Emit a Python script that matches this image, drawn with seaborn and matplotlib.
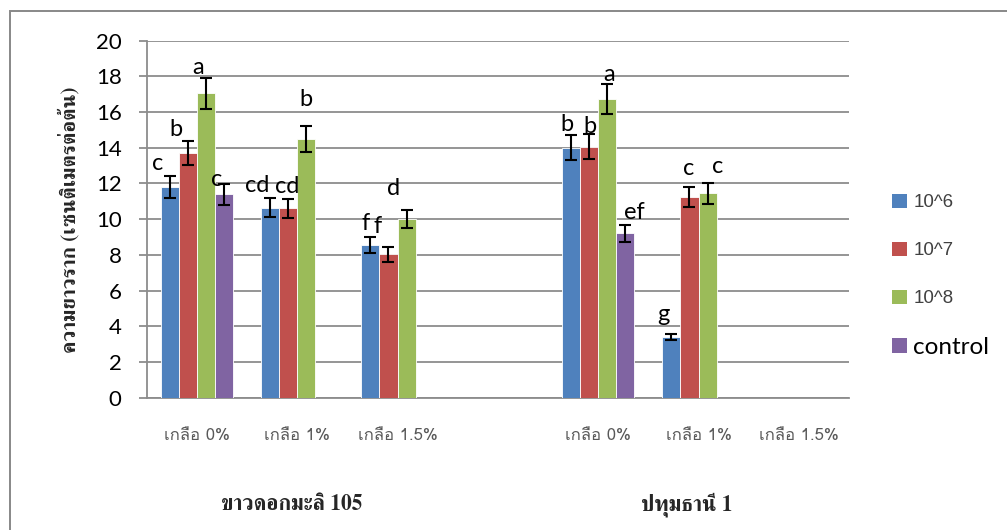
import numpy as np
import pandas as pd
import matplotlib
matplotlib.use("Agg")
import matplotlib.pyplot as plt
from matplotlib import font_manager
from matplotlib.patches import Patch, Rectangle
import seaborn as sns

# ---- data -----------------------------------------------------------------
varieties = ["ขาวดอกมะลิ 105", "ปทุมธานี 1"]
salt_levels = ["เกลือ 0%", "เกลือ 1%", "เกลือ 1.5%"]
treatments = ["10^6", "10^7", "10^8", "control"]

# root length (cm per plant), order: KDML105 0/1/1.5 %, PT1 0/1/1.5 %
len_1e6 = [11.8, 10.65, 8.55, 14.0, 3.4, np.nan]
len_1e7 = [13.7, 10.6, 8.05, 14.05, 11.25, np.nan]
len_1e8 = [17.05, 14.5, 10.0, 16.75, 11.45, np.nan]
len_ctrl = [11.4, np.nan, np.nan, 9.2, np.nan, np.nan]

err_1e6 = [0.6, 0.53, 0.45, 0.7, 0.17, np.nan]
err_1e7 = [0.68, 0.53, 0.42, 0.7, 0.56, np.nan]
err_1e8 = [0.85, 0.72, 0.5, 0.83, 0.59, np.nan]
err_ctrl = [0.58, np.nan, np.nan, 0.46, np.nan, np.nan]

let_1e6 = ["c", "cd", "f", "b", "g", ""]
let_1e7 = ["b", "cd", "f", "b", "c", ""]
let_1e8 = ["a", "b", "d", "a", "c", ""]
let_ctrl = ["c", "", "", "ef", "", ""]

# letter nudges (pixels: dx from bar centre, dy above error-bar top)
nudge_1e6 = [(-12, 6.7), (-13, 6.6), (-4.4, 7.3), (-3.8, 4), (-8.3, 13), None]
nudge_1e7 = [(-12, 4.7), (-0.7, 6), (-11, 13.4), (1, 1.4), (-0.8, 12.3), None]
nudge_1e8 = [(-8, 4.6), (-0.4, 19.6), (-13, 15), (2, 3), (9.8, 9.7), None]
nudge_ctrl = [(-7.5, -1.7), None, None, (9.4, 6.7), None, None]

colors = ["#4F81BD", "#C0504D", "#9BBB59", "#8064A2"]

# ---- fonts ----------------------------------------------------------------
def thai_capable():
    from fontTools.ttLib import TTFont
    names = []
    for f in font_manager.fontManager.ttflist:
        try:
            tt = TTFont(f.fname, fontNumber=0, lazy=True)
            cmap = tt.getBestCmap() or {}
            if 0x0E01 in cmap and 0x0E25 in cmap:
                if f.name not in names:
                    names.append(f.name)
        except Exception:
            pass
    return names

thai_names = thai_capable()
serif_thai = [n for n in thai_names if "serif" in n.lower() or "Looped" in n]
sans_thai = [n for n in thai_names if n not in serif_thai]
thai_sans_family = sans_thai[:1] + serif_thai[:1] + ["Liberation Sans", "DejaVu Sans"]
thai_serif_family = serif_thai[:1] + sans_thai[:1] + ["Liberation Serif", "DejaVu Serif"]

sns.set_theme(style="white")
plt.rcParams["font.family"] = ["Lato", "DejaVu Sans"]

# ---- table ----------------------------------------------------------------
keys = [f"{v}|{s}" for v in varieties for s in salt_levels]
order = keys[:3] + ["gap"] + keys[3:]
rows = []
for t, vals, errs, lets, nud in zip(
        treatments,
        [len_1e6, len_1e7, len_1e8, len_ctrl],
        [err_1e6, err_1e7, err_1e8, err_ctrl],
        [let_1e6, let_1e7, let_1e8, let_ctrl],
        [nudge_1e6, nudge_1e7, nudge_1e8, nudge_ctrl]):
    for k, v, e, l, n in zip(keys, vals, errs, lets, nud):
        if not np.isnan(v):
            rows.append(dict(group=k, treatment=t, length=v, err=e, letter=l, nudge=n))
df = pd.DataFrame(rows)

# ---- figure ---------------------------------------------------------------
W, H = 1007, 530
fig = plt.figure(figsize=(W / 100, H / 100), dpi=100)
ax = fig.add_axes([146.7 / W, 1 - 397.7 / H, (849 - 146.7) / W, (397.7 - 40.7) / H])

sns.barplot(data=df, x="group", y="length", hue="treatment", order=order,
            hue_order=treatments, palette=colors, width=0.72, gap=0,
            errorbar=None, edgecolor="white", linewidth=0.6, saturation=1,
            legend=False, ax=ax, zorder=3)

px2pt = 0.72
for t, cont in zip(treatments, ax.containers):
    sub = df[df.treatment == t].copy()
    sub["pos"] = sub.group.map(order.index)
    sub = sub.sort_values("pos")
    for bar, (_, r) in zip(cont.patches, sub.iterrows()):
        xc = bar.get_x() + bar.get_width() / 2
        top = bar.get_height()
        ax.errorbar(xc, top, yerr=r.err, fmt="none", ecolor="black",
                    elinewidth=1.5, capsize=4.3, capthick=1.5, zorder=4)
        if r.letter:
            dx, dy = r.nudge
            ax.annotate(r.letter, (xc, top + r.err), xytext=(dx * px2pt, dy * px2pt),
                        textcoords="offset points", ha="center", va="baseline",
                        fontsize=17, color="black", zorder=5)

ax.set_ylim(0, 20)
ax.set_xlim(-0.5, 6.5)
ax.set_yticks(range(0, 21, 2))
ax.yaxis.grid(True, color="#8C8C8C", linewidth=1.3, zorder=0)
ax.set_axisbelow(True)
for s in ["top", "right"]:
    ax.spines[s].set_visible(False)
ax.spines["left"].set_color("#8C8C8C")
ax.spines["left"].set_linewidth(1.3)
ax.spines["bottom"].set_color("#8C8C8C")
ax.spines["bottom"].set_linewidth(1.3)
ax.tick_params(axis="y", length=6, width=1.3, color="#8C8C8C", pad=12,
               labelsize=16, labelcolor="black", left=True)
ax.tick_params(axis="x", length=0, pad=22)
ax.set_xticks(range(7))
ax.set_xticklabels(salt_levels + [""] + salt_levels, family=thai_sans_family,
                   fontsize=12, color="#595959")
ax.set_xlabel("")
ax.set_ylabel("")

# variety captions under each half
for xc, name in zip([0.95, 4.88], varieties):
    ax.text(xc, -0.30, name, transform=ax.get_xaxis_transform(), ha="center",
            va="center", family=thai_serif_family, fontweight="bold", fontsize=15.5)

fig.text(69 / W, 1 - 220 / H, "ความยาวราก (เซนติเมตรต่อต้น)", rotation=90,
         ha="center", va="center", family=thai_serif_family, fontweight="bold",
         fontsize=15)

# legend: three inoculum levels, then the control entry in a larger face
handles = [Patch(facecolor=c, edgecolor="none") for c in colors]
leg_kw = dict(loc="center left", frameon=False, borderpad=0, borderaxespad=0)
leg1 = fig.legend(handles[:3], treatments[:3], bbox_to_anchor=(892 / W, 1 - 250.5 / H),
                  handlelength=0.785, handleheight=0.785, handletextpad=0.35,
                  labelspacing=1.62,
                  prop={"family": ["Liberation Sans", "DejaVu Sans"], "size": 13.5},
                  **leg_kw)
for txt in leg1.get_texts():
    txt.set_color("#404040")
leg2 = fig.legend(handles[3:], treatments[3:], bbox_to_anchor=(892 / W, 1 - 347.5 / H),
                  prop={"size": 17.5}, handlelength=0.6, handleheight=0.6,
                  handletextpad=0.27, **leg_kw)
for txt in leg2.get_texts():
    txt.set_color("black")

# chart frame
fig.patches.append(Rectangle((10 / W, -0.2), 1.5, 1.2 - 11 / H, transform=fig.transFigure,
                             fill=False, edgecolor="#888888", linewidth=1.4))

fig.savefig("out.png", dpi=100)
